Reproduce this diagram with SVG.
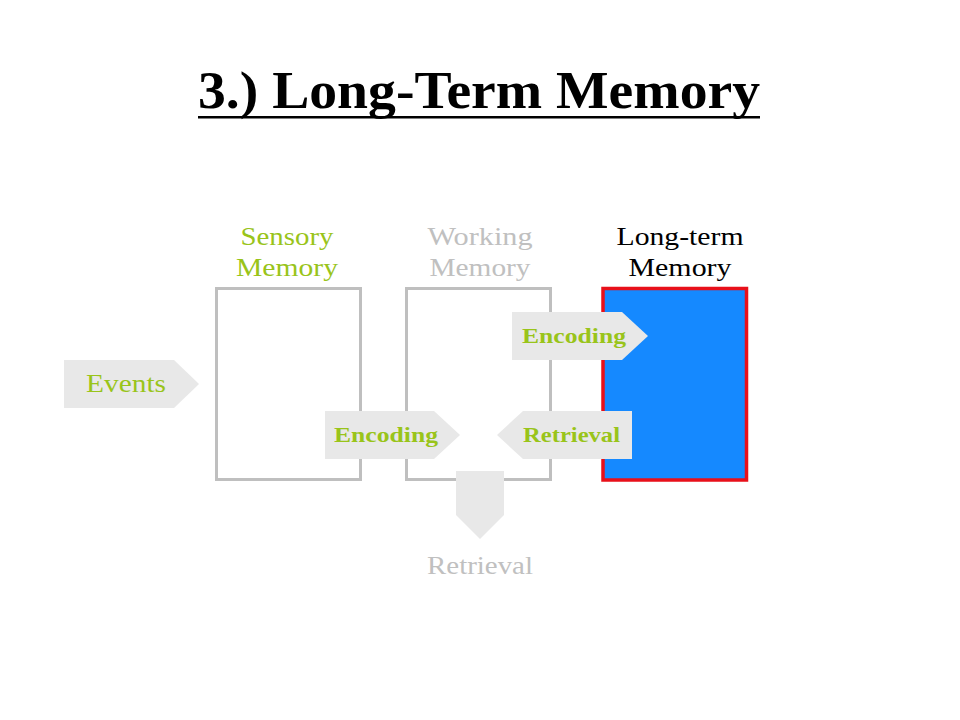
<svg xmlns="http://www.w3.org/2000/svg" width="960" height="720" viewBox="0 0 960 720">
<style>
.title{font-family:"Liberation Serif","Times New Roman",serif;font-weight:bold;font-size:52px;fill:#000}
.lbl{font-family:"Liberation Serif","DejaVu Serif",serif;font-size:26px;text-anchor:middle}
.arrowtxt{font-family:"Liberation Serif","DejaVu Serif",serif;font-size:21px;font-weight:bold;fill:#99c41a;text-anchor:middle}
.box{fill:#fff;stroke:#bfbfbf;stroke-width:3}
.arrow{fill:#e8e8e8}
.green{fill:#99c41a}
.gray{fill:#c0c0c0}
</style>
<rect width="960" height="720" fill="#fff"/>
<g id="title">
<text class="title" x="479" y="108" text-anchor="middle" textLength="562" lengthAdjust="spacingAndGlyphs">3.) Long-Term Memory</text>
<rect x="198" y="116" width="562" height="2.5" fill="#000"/>
</g>
<g id="sensory">
<rect class="box" x="216.5" y="288.5" width="144" height="191"/>
<text class="lbl green" x="287" y="245" textLength="93" lengthAdjust="spacingAndGlyphs">Sensory</text>
<text class="lbl green" x="287" y="276" textLength="102" lengthAdjust="spacingAndGlyphs">Memory</text>
</g>
<g id="working">
<rect class="box" x="406.5" y="288.5" width="144" height="191"/>
<text class="lbl gray" x="480" y="245" textLength="105" lengthAdjust="spacingAndGlyphs">Working</text>
<text class="lbl gray" x="480" y="276" textLength="101" lengthAdjust="spacingAndGlyphs">Memory</text>
</g>
<g id="longterm">
<rect x="603" y="288.5" width="143.5" height="191.5" fill="#1589ff" stroke="#e8101a" stroke-width="3.5"/>
<text class="lbl" x="680" y="245" fill="#000" textLength="127" lengthAdjust="spacingAndGlyphs">Long-term</text>
<text class="lbl" x="680" y="276" fill="#000" textLength="103" lengthAdjust="spacingAndGlyphs">Memory</text>
</g>
<g id="connectors">
<g id="events">
<polygon class="arrow" points="64,360 174,360 199,384 174,408 64,408"/>
<text class="lbl green" x="126" y="392" textLength="80" lengthAdjust="spacingAndGlyphs">Events</text>
</g>
<g id="encoding-top">
<polygon class="arrow" points="512,312 622,312 648,336 622,360 512,360"/>
<text class="arrowtxt" x="574" y="343" textLength="104" lengthAdjust="spacingAndGlyphs">Encoding</text>
</g>
<g id="encoding-bottom">
<polygon class="arrow" points="325,411 434,411 460,435 434,459 325,459"/>
<text class="arrowtxt" x="386" y="442" textLength="104" lengthAdjust="spacingAndGlyphs">Encoding</text>
</g>
<g id="retrieval-left">
<polygon class="arrow" points="632,411 523,411 497,435 523,459 632,459"/>
<text class="arrowtxt" x="571.5" y="442" textLength="97" lengthAdjust="spacingAndGlyphs">Retrieval</text>
</g>
<g id="retrieval-down">
<polygon class="arrow" points="456,471 504,471 504,515 480,539 456,515"/>
<text class="lbl gray" x="480" y="574" textLength="106" lengthAdjust="spacingAndGlyphs">Retrieval</text>
</g>
</g>
</svg>
